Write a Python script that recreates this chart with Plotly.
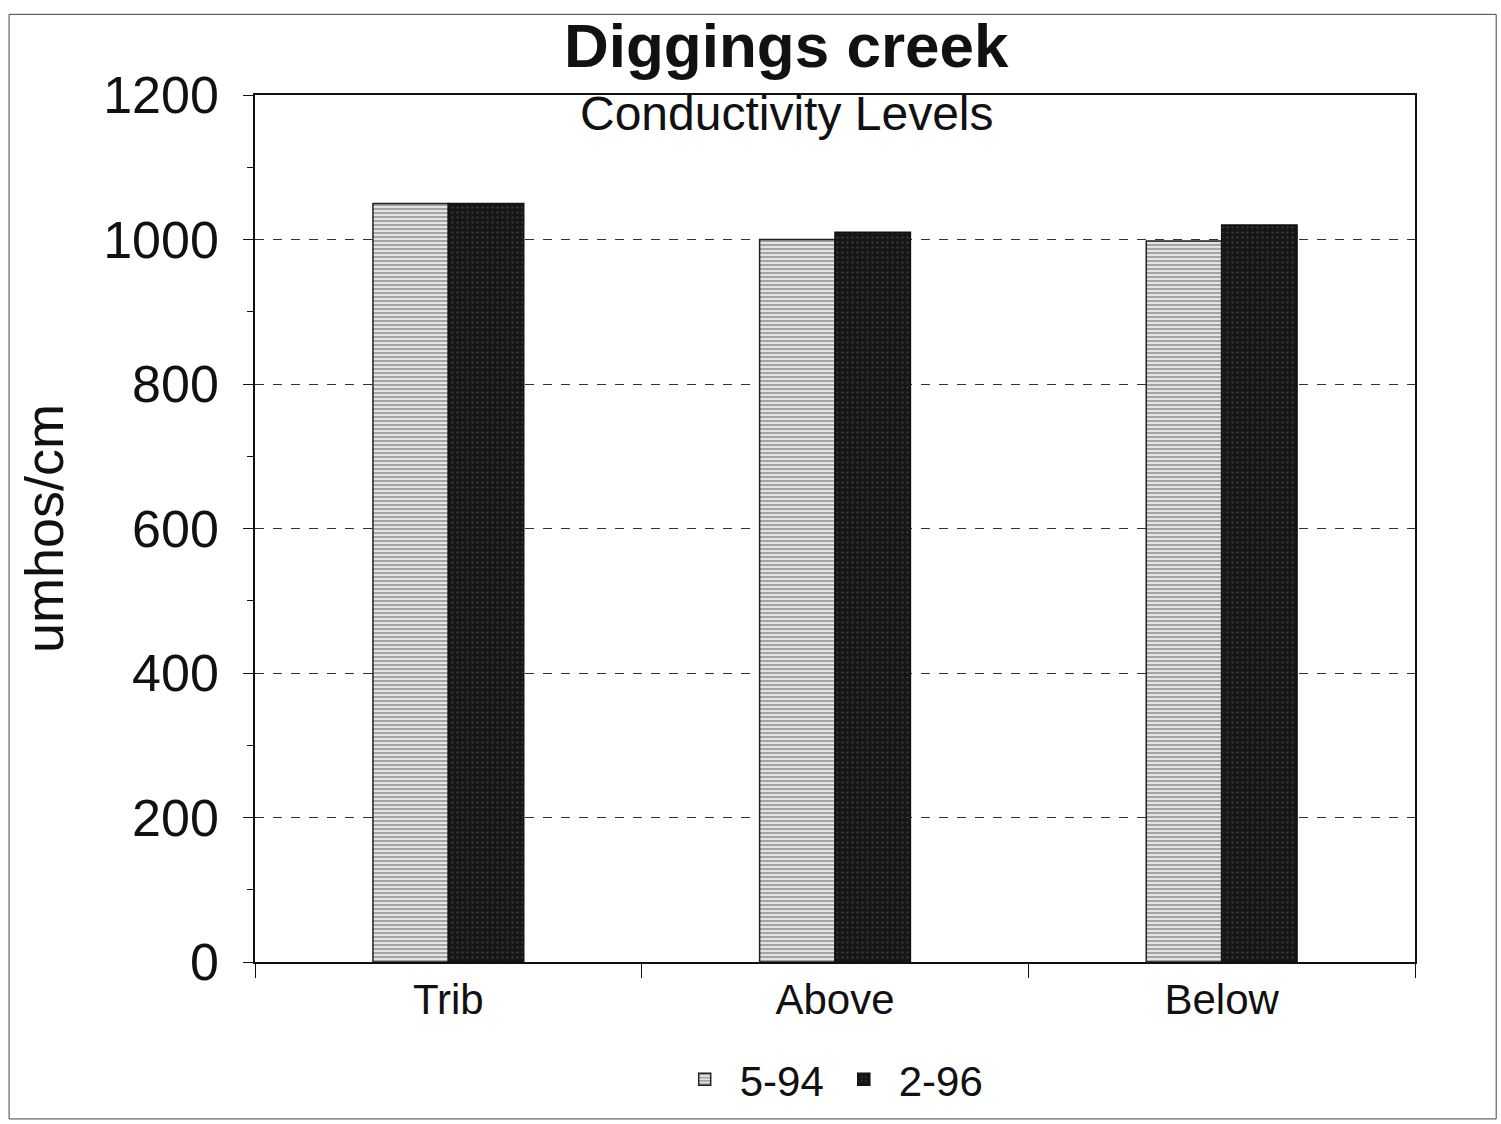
import plotly.graph_objects as go

categories = ["Trib", "Above", "Below"]
series_names = ["5-94", "2-96"]
values_5_94 = [1050, 1000, 998]
values_2_96 = [1050, 1010, 1020]
y_ticks = [0, 200, 400, 600, 800, 1000, 1200]

FONT = "Liberation Sans, Arial, sans-serif"

fig = go.Figure()
fig.add_trace(go.Bar(
    x=categories, y=values_5_94, name=series_names[0],
    marker=dict(color="#ffffff", line=dict(color="#222222", width=1.5),
                pattern=dict(shape="-", fgcolor="#555555", bgcolor="#e4e4e4",
                             size=4, solidity=0.45)),
))
fig.add_trace(go.Bar(
    x=categories, y=values_2_96, name=series_names[1],
    marker=dict(color="#161616", line=dict(color="#111111", width=1.5),
                pattern=dict(shape=".", fgcolor="#6a6a6a", bgcolor="#161616",
                             size=5, solidity=0.15)),
))

fig.update_layout(
    width=1501, height=1124,
    paper_bgcolor="white", plot_bgcolor="white",
    margin=dict(l=255, r=86, t=95, b=161),
    barmode="group", bargap=0.61, bargroupgap=0,
    font=dict(family=FONT, color="#111111"),
    showlegend=True,
    legend=dict(orientation="h", x=0.495, xanchor="center", y=-0.095, yanchor="top",
                font=dict(size=42, family=FONT), itemwidth=60,
                bgcolor="rgba(0,0,0,0)"),
    xaxis=dict(
        showline=True, linecolor="#111111", linewidth=1.5, mirror=True,
        ticks="outside", ticklen=14, tickcolor="#111111", tickson="boundaries",
        tickfont=dict(size=42, family=FONT), showgrid=False,
    ),
    yaxis=dict(
        range=[0, 1200], tickvals=y_ticks,
        showline=True, linecolor="#111111", linewidth=1.5, mirror=True,
        ticks="outside", ticklen=10, tickcolor="#111111",
        minor=dict(dtick=100, ticks="outside", ticklen=6, tickcolor="#111111", showgrid=False),
        tickfont=dict(size=52, family=FONT), ticklabelstandoff=14,
        showgrid=True, gridcolor="#333333", griddash="dash", gridwidth=1,
        zeroline=False,
        title=dict(text="umhos/cm", font=dict(size=54, family=FONT), standoff=22),
    ),
    annotations=[
        dict(text="<b>Diggings creek</b>", xref="paper", yref="paper",
             x=0.4586, y=1.0576, xanchor="center", yanchor="middle", showarrow=False,
             font=dict(size=62, family=FONT, color="#111111")),
        dict(text="Conductivity Levels", xref="paper", yref="paper",
             x=0.4586, y=0.979, xanchor="center", yanchor="middle", showarrow=False,
             font=dict(size=48, family=FONT, color="#111111")),
    ],
    shapes=[
        dict(type="rect", xref="paper", yref="paper",
             x0=-0.212, x1=1.07, y0=-0.181, y1=1.093,
             line=dict(color="#444444", width=1)),
    ],
)

fig.write_html("out.html")
